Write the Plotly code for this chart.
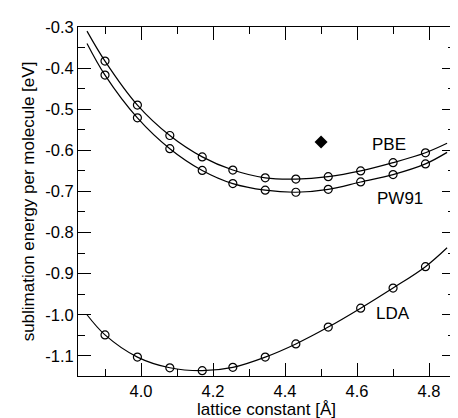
import plotly.graph_objects as go

# lattice constants of the computed points [Å]
lattice = [3.90, 3.99, 4.08, 4.17, 4.255, 4.345, 4.43, 4.52, 4.61, 4.70, 4.79]

# sublimation energies per molecule [eV]
pbe = [-0.383, -0.490, -0.564, -0.616, -0.648, -0.667, -0.670, -0.664, -0.650, -0.630, -0.606]
pw91 = [-0.417, -0.521, -0.596, -0.649, -0.681, -0.697, -0.702, -0.695, -0.677, -0.659, -0.633]
lda = [-1.049, -1.103, -1.129, -1.136, -1.128, -1.103, -1.071, -1.030, -0.984, -0.935, -0.883]

# fitted curves extend a little past the data on both sides
fit_x_start, fit_x_end = 3.85, 4.85
pbe_ends = [-0.31, -0.583]
pw91_ends = [-0.34, -0.605]
lda_ends = [-1.0, -0.837]

# experimental value
exp_x = [4.5]
exp_y = [-0.58]

labels = ["PBE", "PW91", "LDA"]
label_x = [4.69, 4.72, 4.70]
label_y = [-0.585, -0.716, -0.998]

# tick labels (plain hyphen as minus, like the original)
x_tickvals = [4.0, 4.2, 4.4, 4.6, 4.8]
x_ticktext = ["4.0", "4.2", "4.4", "4.6", "4.8"]
y_tickvals = [-1.1, -1.0, -0.9, -0.8, -0.7, -0.6, -0.5, -0.4, -0.3]
y_ticktext = ["-1.1", "-1.0", "-0.9", "-0.8", "-0.7", "-0.6", "-0.5", "-0.4", "-0.3"]

FONT = "Liberation Sans, Arial, Helvetica, sans-serif"

fig = go.Figure()

for vals, ends in [(pbe, pbe_ends), (pw91, pw91_ends), (lda, lda_ends)]:
    # smooth fit curve
    fig.add_trace(go.Scatter(
        x=[fit_x_start] + lattice + [fit_x_end],
        y=[ends[0]] + vals + [ends[1]],
        mode="lines",
        line=dict(color="black", width=1.2, shape="spline", smoothing=1.0),
        showlegend=False,
        hoverinfo="skip",
    ))
    # computed points
    fig.add_trace(go.Scatter(
        x=lattice, y=vals,
        mode="markers",
        marker=dict(symbol="circle-open", size=8, color="black", line=dict(width=1.2)),
        showlegend=False,
    ))

fig.add_trace(go.Scatter(
    x=exp_x, y=exp_y,
    mode="markers",
    marker=dict(symbol="diamond", size=10, color="black"),
    showlegend=False,
))

for t, lx, ly in zip(labels, label_x, label_y):
    fig.add_annotation(x=lx, y=ly, text=t, showarrow=False,
                       font=dict(family=FONT, size=17, color="black"))

axis_common = dict(
    showline=True, linecolor="black", linewidth=1,
    mirror="allticks", ticks="inside", ticklen=13, tickwidth=1, tickcolor="black",
    showgrid=False, zeroline=False,
    tickfont=dict(family=FONT, size=16.5, color="black"),
)

fig.update_xaxes(
    range=[3.825, 4.872], tickvals=x_tickvals, ticktext=x_ticktext,
    minor=dict(ticks="inside", ticklen=7, dtick=0.1, tick0=3.9, tickcolor="black", showgrid=False),
    title=dict(text="lattice constant [Å]", font=dict(family=FONT, size=17, color="black"), standoff=4),
    **axis_common,
)
fig.update_yaxes(
    range=[-1.149, -0.3], tickvals=y_tickvals, ticktext=y_ticktext,
    minor=dict(ticks="inside", ticklen=7, dtick=0.05, tick0=-1.1, tickcolor="black", showgrid=False),
    title=dict(text="sublimation energy per molecule [eV]", font=dict(family=FONT, size=17, color="black"), standoff=6),
    **axis_common,
)

fig.update_layout(
    width=458, height=418,
    margin=dict(l=70, r=10, t=16, b=46),
    plot_bgcolor="white", paper_bgcolor="white",
    font=dict(family=FONT, size=16, color="black"),
)

fig.write_html("out.html")
